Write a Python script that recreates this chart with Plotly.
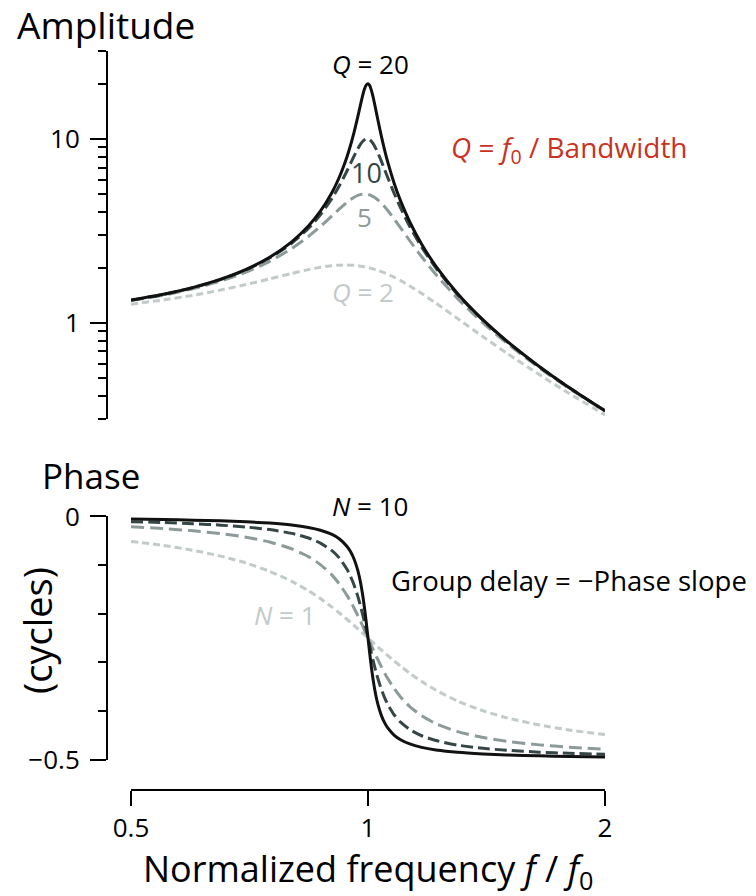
import plotly.graph_objects as go

# Normalized frequency f / f0
freq = [0.5, 0.55, 0.6, 0.65, 0.7, 0.75, 0.8, 0.84, 0.87, 0.9, 0.92, 0.94, 0.95, 0.96, 0.97,
        0.975, 0.98, 0.985, 0.99, 0.995, 1.0, 1.005, 1.01, 1.015, 1.02, 1.025, 1.03, 1.04,
        1.05, 1.06, 1.08, 1.1, 1.13, 1.17, 1.22, 1.3, 1.4, 1.5, 1.65, 1.8, 2.0]

# Amplitude curves
amp_q20 = [1.333, 1.433, 1.561, 1.729, 1.956, 2.277, 2.761, 3.363, 4.049, 5.121, 6.237, 7.966,
           9.221, 10.88, 13.08, 14.41, 15.87, 17.38, 18.74, 19.71, 20.0, 19.52, 18.40, 16.93,
           15.37, 13.88, 12.54, 10.33, 8.683, 7.436, 5.716, 4.607, 3.539, 2.677, 2.032, 1.443,
           1.039, 0.7986, 0.5799, 0.4461, 0.3332]
amp_q10 = [1.330, 1.429, 1.556, 1.721, 1.943, 2.253, 2.712, 3.266, 3.873, 4.757, 5.585, 6.684,
           7.346, 8.068, 8.804, 9.150, 9.461, 9.718, 9.903, 10.00, 10.0, 9.901, 9.711, 9.442,
           9.115, 8.747, 8.357, 7.565, 6.815, 6.141, 5.041, 4.218, 3.344, 2.584, 1.986, 1.424,
           1.031, 0.7943, 0.5779, 0.4450, 0.3326]
amp_q5 = [1.322, 1.416, 1.536, 1.689, 1.891, 2.162, 2.538, 2.950, 3.345, 3.821, 4.172, 4.522,
          4.683, 4.822, 4.931, 4.971, 5.001, 5.019, 5.025, 5.019, 5.0, 4.969, 4.926, 4.872,
          4.809, 4.736, 4.655, 4.476, 4.279, 4.075, 3.668, 3.288, 2.798, 2.289, 1.832, 1.356,
          1.000, 0.7779, 0.5702, 0.4408, 0.3304]
amp_q2 = [1.265, 1.334, 1.415, 1.509, 1.617, 1.735, 1.858, 1.950, 2.007, 2.047, 2.062, 2.065,
          2.062, 2.056, 2.047, 2.041, 2.034, 2.027, 2.019, 2.010, 2.0, 1.990, 1.979, 1.967,
          1.955, 1.942, 1.928, 1.900, 1.869, 1.837, 1.770, 1.699, 1.589, 1.446, 1.280, 1.055,
          0.8417, 0.6860, 0.5236, 0.4142, 0.3162]

# Phase curves (cycles)
ph_q20 = [-0.0053, -0.0063, -0.0075, -0.0089, -0.0109, -0.0136, -0.0176, -0.0226, -0.0282,
          -0.0370, -0.0463, -0.0611, -0.0722, -0.0874, -0.1094, -0.1240, -0.1418, -0.1635,
          -0.1892, -0.2185, -0.25, -0.2813, -0.3103, -0.3355, -0.3566, -0.3740, -0.3883,
          -0.4097, -0.4247, -0.4355, -0.4501, -0.4592, -0.4680, -0.4750, -0.4802, -0.4851,
          -0.4884, -0.4905, -0.4924, -0.4936, -0.4947]
ph_q10 = [-0.0106, -0.0125, -0.0149, -0.0178, -0.0217, -0.0270, -0.0348, -0.0442, -0.0547,
          -0.0704, -0.0859, -0.1081, -0.1229, -0.1410, -0.1629, -0.1754, -0.1889, -0.2033,
          -0.2184, -0.2341, -0.25, -0.2658, -0.2813, -0.2961, -0.3100, -0.3230, -0.3350,
          -0.3559, -0.3731, -0.3872, -0.4084, -0.4232, -0.4383, -0.4511, -0.4610, -0.4704,
          -0.4770, -0.4810, -0.4848, -0.4872, -0.4894]
ph_q5 = [-0.0211, -0.0249, -0.0295, -0.0352, -0.0426, -0.0526, -0.0666, -0.0825, -0.0989,
         -0.1207, -0.1393, -0.1618, -0.1745, -0.1883, -0.2029, -0.2105, -0.2183, -0.2261,
         -0.2341, -0.2420, -0.25, -0.2579, -0.2658, -0.2735, -0.2811, -0.2885, -0.2957,
         -0.3095, -0.3223, -0.3340, -0.3545, -0.3713, -0.3911, -0.4100, -0.4263, -0.4427,
         -0.4548, -0.4625, -0.4699, -0.4746, -0.4789]
ph_q2 = [-0.0512, -0.0597, -0.0698, -0.0816, -0.0957, -0.1128, -0.1334, -0.1527, -0.1689,
         -0.1864, -0.1987, -0.2114, -0.2178, -0.2242, -0.2307, -0.2339, -0.2372, -0.2404,
         -0.2436, -0.2468, -0.25, -0.2532, -0.2563, -0.2595, -0.2626, -0.2657, -0.2687,
         -0.2748, -0.2807, -0.2865, -0.2976, -0.3080, -0.3225, -0.3395, -0.3575, -0.3798,
         -0.3997, -0.4140, -0.4289, -0.4392, -0.4488]

amp_ticks = [1, 10]
amp_ticktext = ["1", "10"]
amp_minor = [0.3, 0.4, 0.5, 0.6, 0.7, 0.8, 0.9, 2, 3, 4, 5, 6, 7, 8, 9, 20, 30]
ph_ticks = [0, -0.5]
ph_ticktext = ["0", "\u22120.5"]
ph_minor = [-0.1, -0.2, -0.3, -0.4]
x_ticks = [0.5, 1, 2]
x_ticktext = ["0.5", "1", "2"]

# the page body has an 8px margin; the figure is sized to fill the rest of the window
OFF = 8
W, H = 756 - OFF, 896 - OFF
FONT = "Open Sans"

C20 = "#111111"
C10 = "#364646"
C5 = "#8d9a9a"
C2 = "#c2caca"
RED = "#c8321e"

styles = [
    (amp_q2, ph_q2, C2, "7px,4px"),
    (amp_q5, ph_q5, C5, "13px,6px"),
    (amp_q10, ph_q10, C10, "12px,5px"),
    (amp_q20, ph_q20, C20, "solid"),
]

fig = go.Figure()
for amp, ph, col, dash in styles:
    fig.add_trace(go.Scatter(x=freq, y=amp, mode="lines", xaxis="x", yaxis="y",
                             line=dict(color=col, width=3, dash=dash, shape="spline", smoothing=0.6),
                             hoverinfo="skip"))
    fig.add_trace(go.Scatter(x=freq, y=ph, mode="lines", xaxis="x2", yaxis="y2",
                             line=dict(color=col, width=3, dash=dash, shape="spline", smoothing=0.6),
                             hoverinfo="skip"))

def px(x):
    return (x - OFF) / W

def py(y):
    return 1 - (y - OFF) / H

xdom = [px(131), px(605)]
axis_common = dict(showgrid=False, zeroline=False, linecolor="black", linewidth=2,
                   tickcolor="black", tickwidth=2, ticks="outside", automargin=False,
                   tickfont=dict(family=FONT, size=26, color="black"))

fig.update_layout(
    template="none",
    width=W, height=H,
    margin=dict(l=0, r=0, t=0, b=0, pad=0, autoexpand=False),
    paper_bgcolor="white", plot_bgcolor="white",
    showlegend=False,
    font=dict(family=FONT, color="black"),
    xaxis=dict(domain=xdom, type="log", range=[-0.30103, 0.30103], anchor="y",
               showline=False, showticklabels=False, ticks="", showgrid=False, zeroline=False,
               automargin=False),
    yaxis=dict(domain=[py(419.2), py(51.2)], type="log", range=[-0.5235, 1.4776],
               anchor="free", position=px(107), showline=True,
               tickmode="array", tickvals=amp_ticks, ticktext=amp_ticktext, ticklen=16,
               ticklabelstandoff=5,
               minor=dict(tickmode="array", tickvals=amp_minor, ticklen=8, tickwidth=2,
                          tickcolor="black", ticks="outside", showgrid=False),
               **axis_common),
    xaxis2=dict(domain=xdom, type="log", range=[-0.30103, 0.30103], anchor="free",
                position=py(790), showline=True,
                tickmode="array", tickvals=x_ticks, ticktext=x_ticktext, ticklen=15,
                **axis_common),
    yaxis2=dict(domain=[py(760), py(516)], range=[-0.501, 0.001], anchor="free",
                position=px(107), showline=True,
                tickmode="array", tickvals=ph_ticks, ticktext=ph_ticktext, ticklen=16,
                ticklabelstandoff=5,
                minor=dict(tickmode="array", tickvals=ph_minor, ticklen=8, tickwidth=2,
                           tickcolor="black", ticks="outside", showgrid=False),
                **axis_common),
)

def ann(text, x, y, size, color="black", xanchor="center", yanchor="middle", angle=0):
    fig.add_annotation(text=text, x=px(x), y=py(y), xref="paper", yref="paper",
                       showarrow=False, xanchor=xanchor, yanchor=yanchor, textangle=angle,
                       font=dict(family=FONT, size=size, color=color))

ann("Amplitude", 15, 25, 37, xanchor="left")
ann("Phase", 40, 476, 35, xanchor="left")
ann("(cycles)", 37, 631, 38, angle=-90)
ann("Normalized frequency <i>f</i> / <i>f</i><sub>0</sub>", 368, 870, 36)
ann("<i>Q</i> = 20", 370, 64, 26)
ann("10", 366, 173, 27, color=C10)
ann("5", 364, 217, 26, color=C5)
ann("<i>Q</i> = 2", 363, 292, 26, color=C2)
ann("<i>Q</i> = <i>f</i><sub>0</sub> / Bandwidth", 449, 149, 28, color=RED, xanchor="left")
ann("<i>N</i> = 10", 370, 506, 26)
ann("Group delay = \u2212Phase slope", 389, 580, 27.5, xanchor="left")
ann("<i>N</i> = 1", 318, 615, 26, color=C2, xanchor="right")

fig.write_html("out.html")
